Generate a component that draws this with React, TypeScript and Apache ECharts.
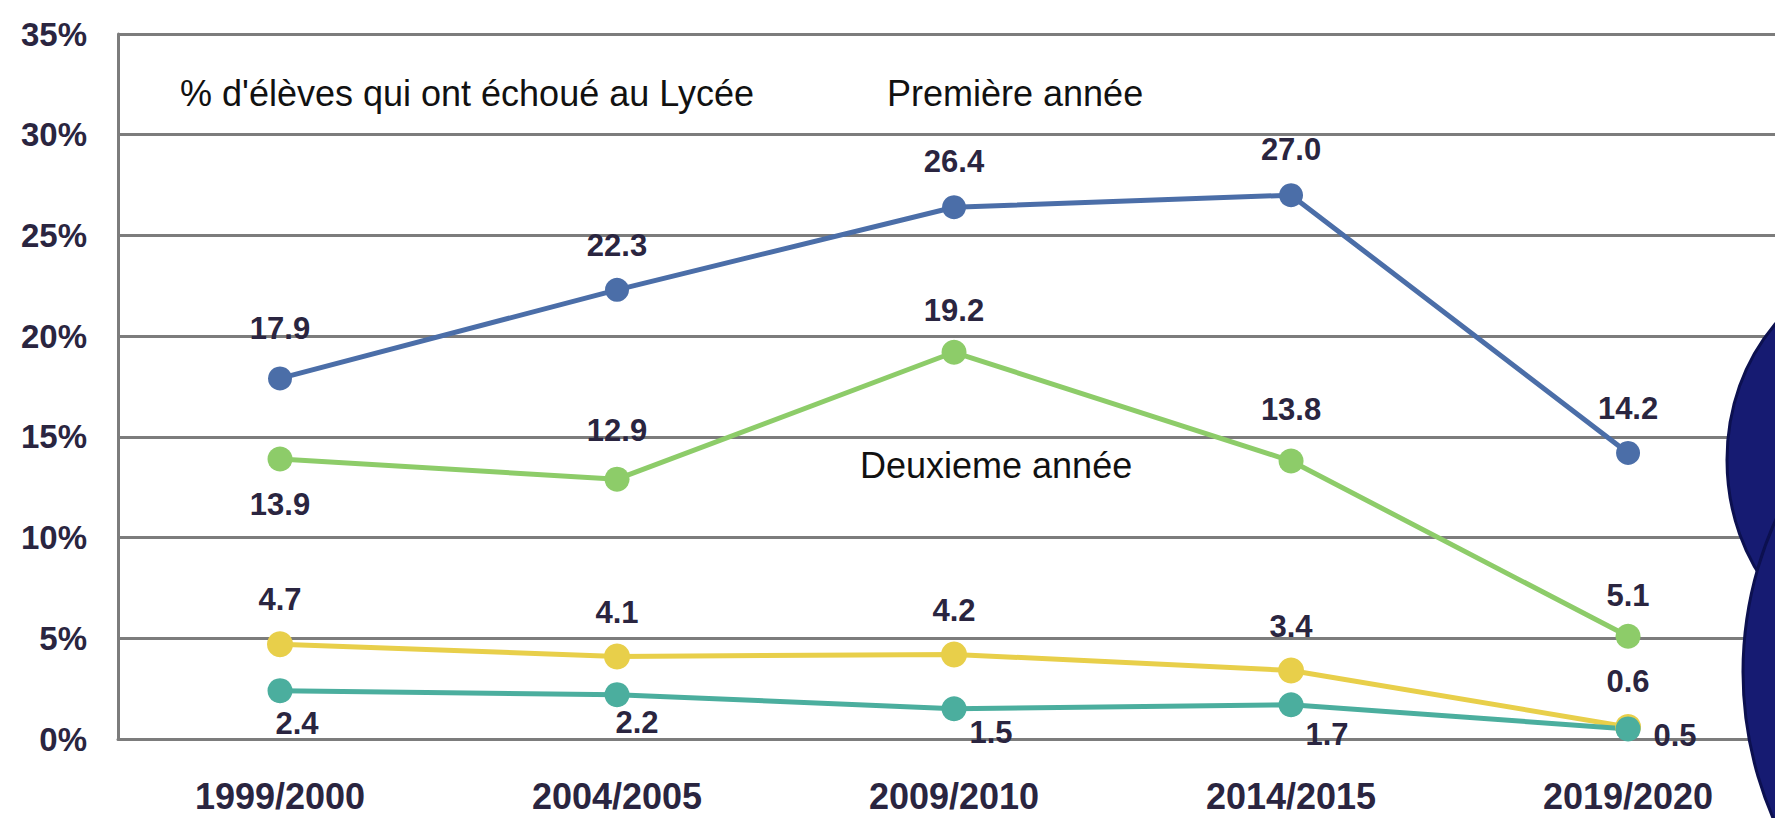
import React, { useEffect, useRef } from "react";
import * as echarts from "echarts";

const categories = ["1999/2000", "2004/2005", "2009/2010", "2014/2015", "2019/2020"];
const premiereAnnee = [17.9, 22.3, 26.4, 27.0, 14.2];
const deuxiemeAnnee = [13.9, 12.9, 19.2, 13.8, 5.1];
const serieJaune = [4.7, 4.1, 4.2, 3.4, 0.6];
const serieTurquoise = [2.4, 2.2, 1.5, 1.7, 0.5];
const yTicks = [0, 5, 10, 15, 20, 25, 30, 35];

const titleText = "% d'élèves qui ont échoué au Lycée";
const premiereLabel = "Première année";
const deuxiemeLabel = "Deuxieme année";

// label offsets (style only)
const offsBlue = [[0, -50], [0, -44], [0, -46], [0, -46], [0, -44]];
const offsGreen = [[0, 45], [0, -49], [0, -42], [0, -52], [0, -41]];
const offsYellow = [[0, -45], [0, -44], [0, -44], [0, -44], [0, -45]];
const offsTeal = [[17, 33], [20, 28], [37, 24], [36, 30], [47, 7]];

const NUM_FONT = '"Liberation Sans", Arial, sans-serif';
const TXT_FONT = '"Liberation Sans", Arial, sans-serif';
const LABEL_COLOR = "#2a2540";
const GRID_COLOR = "#7c7c7c";

function makeSeries(name: string, values: number[], color: string, offs: number[][], size: number) {
  return {
    name,
    type: "line",
    data: values.map((v, i) => ({
      value: [i, v],
      label: { offset: offs[i] },
    })),
    symbol: "circle",
    symbolSize: size,
    lineStyle: { color, width: 5 },
    itemStyle: { color },
    label: {
      show: true,
      position: "inside",
      formatter: (p: any) => p.value[1].toFixed(1),
      color: LABEL_COLOR,
      fontFamily: NUM_FONT,
      fontWeight: "bold",
      fontSize: 31,
      align: "center",
      verticalAlign: "middle",
    },
    z: 3,
  };
}

export default function App() {
  const ref = useRef<HTMLDivElement>(null);
  useEffect(() => {
    if (!ref.current) return;
    const chart = echarts.init(ref.current, null, { renderer: "svg" });
    chart.setOption({
      animation: false,
      backgroundColor: "#ffffff",
      grid: { left: 118, right: 0, top: 34, bottom: 79, containLabel: false },
      xAxis: {
        type: "value",
        min: -0.4807,
        max: 4.436,
        axisLine: { show: true, onZero: false, lineStyle: { color: GRID_COLOR, width: 3 } },
        axisTick: { show: false },
        splitLine: { show: false },
        axisLabel: {
          customValues: [0, 1, 2, 3, 4],
          formatter: (v: number) => categories[Math.round(v)] ?? "",
          color: LABEL_COLOR,
          fontFamily: NUM_FONT,
          fontWeight: "bold",
          fontSize: 36,
          lineHeight: 40,
          margin: 37,
        },
      },
      yAxis: {
        type: "value",
        min: 0,
        max: 35,
        interval: 5,
        axisLine: { show: true, onZero: false, lineStyle: { color: GRID_COLOR, width: 3 } },
        axisTick: { show: false },
        splitLine: { show: true, lineStyle: { color: GRID_COLOR, width: 3 } },
        axisLabel: {
          formatter: (v: number) => (yTicks.includes(v) ? v + "%" : ""),
          color: LABEL_COLOR,
          fontFamily: NUM_FONT,
          fontWeight: "bold",
          fontSize: 33,
          margin: 31,
          padding: [0, 0, 12, 0],
        },
      },
      series: [
        makeSeries("Première année", premiereAnnee, "#4b6ea8", offsBlue, 24),
        makeSeries("Deuxieme année", deuxiemeAnnee, "#8dcc69", offsGreen, 25),
        makeSeries("Jaune", serieJaune, "#e8cf4a", offsYellow, 26),
        makeSeries("Turquoise", serieTurquoise, "#4bae9e", offsTeal, 25),
      ],
      graphic: [
        {
          type: "text",
          x: 180,
          y: 93,
          z: 10,
          style: { text: titleText, fill: "#111", font: "36px " + TXT_FONT, verticalAlign: "middle" },
        },
        {
          type: "text",
          x: 887,
          y: 93,
          z: 10,
          style: { text: premiereLabel, fill: "#111", font: "36px " + TXT_FONT, verticalAlign: "middle" },
        },
        {
          type: "text",
          x: 860,
          y: 465,
          z: 10,
          style: { text: deuxiemeLabel, fill: "#111", font: "36px " + TXT_FONT, verticalAlign: "middle" },
        },
        {
          type: "ellipse",
          z: 20,
          shape: { cx: 1887, cy: 460, rx: 160, ry: 190 },
          style: { fill: "#161b72", stroke: "#0c1050", lineWidth: 3 },
        },
        {
          type: "circle",
          z: 21,
          shape: { cx: 2113, cy: 672, r: 370 },
          style: { fill: "#161b72", stroke: "#0c1050", lineWidth: 3 },
        },
      ],
    });
    return () => chart.dispose();
  }, []);
  return (
    <div
      ref={ref}
      style={{ position: "absolute", left: 0, top: 0, width: 1775, height: 818 }}
    />
  );
}
